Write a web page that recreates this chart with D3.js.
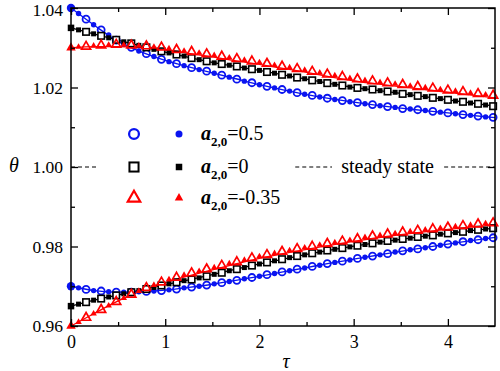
<!DOCTYPE html>
<html><head><meta charset="utf-8">
<script src="https://cdn.jsdelivr.net/npm/d3@7"></script>
<style>
body{margin:0;background:#fff}
text{font-family:"Liberation Serif","Times New Roman",serif;}
</style>
</head><body>
<svg id="c" width="500" height="371"></svg>
<script>
// ---------- data ----------
const lineTau = [0,0.25,0.5,0.75,1,1.25,1.5,1.75,2,2.25,2.5,2.75,3,3.25,3.5,3.75,4,4.25,4.5];
const lineUpperBlue  = [1.0400,1.0356,1.0316,1.0289,1.0268,1.0252,1.0237,1.0222,1.0207,1.0194,1.0182,1.0172,1.0163,1.0155,1.0148,1.0142,1.0136,1.0130,1.0124];
const lineUpperBlack = [1.0350,1.0334,1.0319,1.0304,1.0289,1.0276,1.0263,1.0253,1.0243,1.0232,1.0221,1.0210,1.0200,1.0193,1.0185,1.0177,1.0169,1.0161,1.0153];
const lineUpperRed   = [1.0300,1.0303,1.0303,1.0300,1.0295,1.0286,1.0277,1.0267,1.0258,1.0248,1.0238,1.0227,1.0217,1.0209,1.0202,1.0195,1.0188,1.0181,1.0174];
const lineLowerBlue  = [0.9700,0.9689,0.9685,0.9686,0.9690,0.9697,0.9705,0.9715,0.9725,0.9736,0.9747,0.9758,0.9768,0.9778,0.9788,0.9797,0.9806,0.9815,0.9823];
const lineLowerBlack = [0.9650,0.9665,0.9678,0.9691,0.9704,0.9716,0.9729,0.9743,0.9756,0.9768,0.9780,0.9791,0.9801,0.9810,0.9818,0.9826,0.9833,0.9840,0.9846];
const lineLowerRed   = [0.9600,0.9632,0.9663,0.9689,0.9709,0.9726,0.9741,0.9756,0.9770,0.9782,0.9793,0.9803,0.9813,0.9822,0.9830,0.9837,0.9843,0.9849,0.9855];

const markerTau = [0,0.08,0.16,0.24,0.32,0.40,0.48,0.56,0.64,0.72,0.80,0.88,0.96,1.04,1.12,1.20,1.28,1.36,1.44,1.52,1.60,1.68,1.76,1.84,1.92,2.00,2.08,2.16,2.24,2.32,2.40,2.48,2.56,2.64,2.72,2.80,2.88,2.96,3.04,3.12,3.20,3.28,3.36,3.44,3.52,3.60,3.68,3.76,3.84,3.92,4.00,4.08,4.16,4.24,4.32,4.40,4.48];
const markUpperBlue = [1.0400,1.0386,1.0372,1.0358,1.0345,1.0332,1.0319,1.0309,1.0301,1.0292,1.0285,1.0278,1.0271,1.0265,1.0260,1.0255,1.0250,1.0245,1.0241,1.0236,1.0231,1.0226,1.0221,1.0216,1.0212,1.0207,1.0203,1.0199,1.0195,1.0191,1.0187,1.0183,1.0180,1.0176,1.0173,1.0170,1.0167,1.0164,1.0162,1.0159,1.0157,1.0154,1.0152,1.0150,1.0147,1.0146,1.0144,1.0142,1.0140,1.0138,1.0136,1.0134,1.0132,1.0130,1.0128,1.0126,1.0125];
const markUpperBlack = [1.0350,1.0345,1.0340,1.0335,1.0330,1.0325,1.0320,1.0315,1.0311,1.0306,1.0301,1.0296,1.0291,1.0287,1.0283,1.0279,1.0274,1.0270,1.0266,1.0262,1.0259,1.0256,1.0253,1.0249,1.0246,1.0243,1.0239,1.0236,1.0232,1.0229,1.0225,1.0222,1.0218,1.0215,1.0211,1.0208,1.0205,1.0201,1.0199,1.0197,1.0195,1.0192,1.0190,1.0188,1.0184,1.0182,1.0179,1.0177,1.0174,1.0172,1.0169,1.0166,1.0164,1.0161,1.0159,1.0156,1.0153];
const markUpperRed = [1.0300,1.0302,1.0303,1.0305,1.0306,1.0307,1.0308,1.0307,1.0306,1.0305,1.0304,1.0302,1.0301,1.0298,1.0295,1.0292,1.0290,1.0287,1.0284,1.0281,1.0278,1.0275,1.0272,1.0269,1.0266,1.0263,1.0260,1.0256,1.0253,1.0250,1.0247,1.0244,1.0240,1.0237,1.0233,1.0230,1.0227,1.0223,1.0221,1.0218,1.0216,1.0213,1.0211,1.0209,1.0207,1.0204,1.0202,1.0200,1.0198,1.0195,1.0193,1.0191,1.0189,1.0186,1.0184,1.0182,1.0180];
const markLowerBlue = [0.9700,0.9696,0.9692,0.9689,0.9688,0.9686,0.9685,0.9685,0.9685,0.9686,0.9687,0.9688,0.9689,0.9691,0.9693,0.9696,0.9698,0.9700,0.9703,0.9706,0.9709,0.9712,0.9715,0.9719,0.9722,0.9725,0.9729,0.9732,0.9736,0.9739,0.9743,0.9746,0.9750,0.9753,0.9757,0.9760,0.9763,0.9766,0.9770,0.9773,0.9776,0.9779,0.9782,0.9786,0.9789,0.9792,0.9794,0.9797,0.9800,0.9803,0.9806,0.9809,0.9812,0.9815,0.9817,0.9820,0.9822];
const markLowerBlack = [0.9650,0.9655,0.9660,0.9665,0.9669,0.9673,0.9677,0.9681,0.9685,0.9689,0.9693,0.9697,0.9702,0.9706,0.9710,0.9714,0.9717,0.9721,0.9725,0.9730,0.9734,0.9739,0.9743,0.9747,0.9752,0.9756,0.9760,0.9764,0.9768,0.9772,0.9776,0.9779,0.9783,0.9786,0.9790,0.9793,0.9796,0.9799,0.9802,0.9805,0.9808,0.9811,0.9814,0.9816,0.9819,0.9821,0.9824,0.9826,0.9828,0.9831,0.9833,0.9835,0.9837,0.9840,0.9842,0.9844,0.9846];
const markLowerRed = [0.9600,0.9610,0.9621,0.9631,0.9641,0.9651,0.9661,0.9670,0.9679,0.9688,0.9696,0.9703,0.9710,0.9717,0.9722,0.9728,0.9733,0.9738,0.9743,0.9747,0.9752,0.9757,0.9761,0.9766,0.9771,0.9775,0.9779,0.9783,0.9787,0.9790,0.9794,0.9797,0.9800,0.9804,0.9807,0.9810,0.9813,0.9816,0.9819,0.9823,0.9826,0.9828,0.9831,0.9833,0.9836,0.9838,0.9840,0.9842,0.9844,0.9846,0.9848,0.9850,0.9852,0.9854,0.9856,0.9858,0.9859];

const xMajor = [0,1,2,3,4];
const xMinor = [0.5,1.5,2.5,3.5];
const yMajor = [0.96,0.98,1.00,1.02,1.04];
const yMinor = [0.97,0.99,1.01,1.03];
const legendValues = ["=0.5","=0","=-0.35"];
const steadyValue = 1.00;
const steadySegments = [[0,0.28],[2.38,2.77],[3.96,4.5]];
const steadyLabel = "steady state";

// ---------- setup ----------
const BLUE="#0a14f0", RED="#ff0000", BLACK="#000000";
const FONT='"Liberation Serif","Times New Roman",serif';
const svg = d3.select("#c");
const x = d3.scaleLinear().domain([0,4.5]).range([71,495]);
const y = d3.scaleLinear().domain([0.96,1.04]).range([326,8]);

const series = [
  {color:BLUE, shape:"circle", line:lineUpperBlue, mk:markUpperBlue},
  {color:BLACK, shape:"square", line:lineUpperBlack, mk:markUpperBlack},
  {color:RED, shape:"triangle", line:lineUpperRed, mk:markUpperRed},
  {color:BLUE, shape:"circle", line:lineLowerBlue, mk:markLowerBlue},
  {color:BLACK, shape:"square", line:lineLowerBlack, mk:markLowerBlack},
  {color:RED, shape:"triangle", line:lineLowerRed, mk:markLowerRed}
];

// steady state dashed segments
steadySegments.forEach(s=>{
  svg.append("line").attr("x1",x(s[0])).attr("x2",x(s[1]))
    .attr("y1",y(steadyValue)).attr("y2",y(steadyValue))
    .attr("stroke","#000").attr("stroke-width",1.2).attr("stroke-dasharray","4,3");
});
svg.append("text").attr("x",x(3.36)).attr("y",y(steadyValue)+5.5)
  .attr("text-anchor","middle").attr("font-size",20).style("font-family",FONT)
  .text(steadyLabel);

// lines
const lineGen = d3.line().x((d,i)=>x(lineTau[i])).y(d=>y(d)).curve(d3.curveMonotoneX);
series.forEach(s=>{
  svg.append("path").attr("d",lineGen(s.line)).attr("fill","none")
    .attr("stroke",s.color).attr("stroke-width",1.3);
});

function drawMarker(g, shape, cx, cy, open, big, color, scale){
  scale = scale||1;
  const sw = Math.min(scale,1.25);
  if(shape==="circle"){
    if(open) g.append("circle").attr("cx",cx).attr("cy",cy).attr("r",3.5*scale).attr("fill","none").attr("stroke",color).attr("stroke-width",1.8*sw);
    else g.append("circle").attr("cx",cx).attr("cy",cy).attr("r",(big?4.2:2.7)*scale).attr("fill",color);
  } else if(shape==="square"){
    const s = open?6.5*scale:(big?6.5:5)*scale;
    if(open) g.append("rect").attr("x",cx-s/2).attr("y",cy-s/2).attr("width",s).attr("height",s).attr("fill","#fff").attr("stroke",color).attr("stroke-width",1.6*sw);
    else g.append("rect").attr("x",cx-s/2).attr("y",cy-s/2).attr("width",s).attr("height",s).attr("fill",color);
  } else {
    const side = open?9*scale:(big?9.5:6.5)*scale;
    const area = side*side*Math.sqrt(3)/4;
    const p = d3.symbol(d3.symbolTriangle, area)();
    if(open) g.append("path").attr("d",p).attr("transform",`translate(${cx},${cy})`).attr("fill","none").attr("stroke",color).attr("stroke-width",1.7*sw);
    else g.append("path").attr("d",p).attr("transform",`translate(${cx},${cy})`).attr("fill",color);
  }
}

// markers
const mg = svg.append("g");
series.forEach(s=>{
  s.mk.forEach((v,i)=>{
    if(i>0 && i%2===0) drawMarker(mg,s.shape,x(markerTau[i]),y(v),true,false,s.color);
  });
});
series.forEach(s=>{
  s.mk.forEach((v,i)=>{
    if(i===0 || i%2===1) drawMarker(mg,s.shape,x(markerTau[i]),y(v),false,i===0,s.color);
  });
});

// frame
svg.append("rect").attr("x",71).attr("y",8).attr("width",424).attr("height",318)
  .attr("fill","none").attr("stroke","#000").attr("stroke-width",1.5);

// axes
function styleAxis(g, fs){ g.attr("font-family",null); g.select(".domain").remove(); g.selectAll("line").attr("stroke","#000").attr("stroke-width",1.3); g.selectAll("text").attr("font-size",fs||18).attr("fill","#000").style("font-family",FONT); }
svg.append("g").attr("transform","translate(0,326)")
  .call(d3.axisBottom(x).tickValues(xMajor).tickSize(-7).tickPadding(9).tickFormat(d3.format("d"))).call(styleAxis,18);
svg.append("g").attr("transform","translate(0,326)")
  .call(d3.axisBottom(x).tickValues(xMinor).tickSize(-4).tickFormat("")).call(styleAxis);
svg.append("g").attr("transform","translate(0,8)")
  .call(d3.axisTop(x).tickValues(xMajor).tickSize(-7).tickFormat("")).call(styleAxis);
svg.append("g").attr("transform","translate(0,8)")
  .call(d3.axisTop(x).tickValues(xMinor).tickSize(-4).tickFormat("")).call(styleAxis);
const yAx = svg.append("g").attr("transform","translate(71,0)")
  .call(d3.axisLeft(y).tickValues(yMajor).tickSize(-7).tickPadding(8).tickFormat(d3.format(".2f"))).call(styleAxis,17.5);
// keep the top label fully inside the picture
yAx.selectAll(".tick text").filter(d=>d===d3.max(yMajor)).attr("dy","0.45em");
svg.append("g").attr("transform","translate(71,0)")
  .call(d3.axisLeft(y).tickValues(yMinor).tickSize(-4).tickFormat("")).call(styleAxis);
svg.append("g").attr("transform","translate(495,0)")
  .call(d3.axisRight(y).tickValues(yMajor).tickSize(-7).tickFormat("")).call(styleAxis);
svg.append("g").attr("transform","translate(495,0)")
  .call(d3.axisRight(y).tickValues(yMinor).tickSize(-4).tickFormat("")).call(styleAxis);

// axis titles
svg.append("text").attr("x",14).attr("y",172).attr("text-anchor","middle").style("font-family",FONT)
  .attr("font-size",20).attr("font-style","italic").text("θ");
svg.append("text").attr("x",286).attr("y",368).attr("text-anchor","middle").style("font-family",FONT)
  .attr("font-size",20).attr("font-style","italic").text("τ");

// legend
const lg = svg.append("g");
const legendRows = [{shape:"circle",color:BLUE,cy:134},{shape:"square",color:BLACK,cy:167},{shape:"triangle",color:RED,cy:198}];
legendRows.forEach((r,i)=>{
  drawMarker(lg,r.shape,134,r.cy,true,false,r.color,1.4);
  drawMarker(lg,r.shape,179,r.cy,false,false,r.color,1.3);
  const t = lg.append("text").attr("x",201).attr("y",r.cy+6).attr("font-size",20).style("font-family",FONT);
  t.append("tspan").attr("font-style","italic").attr("font-weight","bold").text("a");
  t.append("tspan").attr("font-size",13).attr("dy",6).attr("font-weight","bold").text("2,0");
  t.append("tspan").attr("dy",-6).text(legendValues[i]);
});
</script>
</body></html>
